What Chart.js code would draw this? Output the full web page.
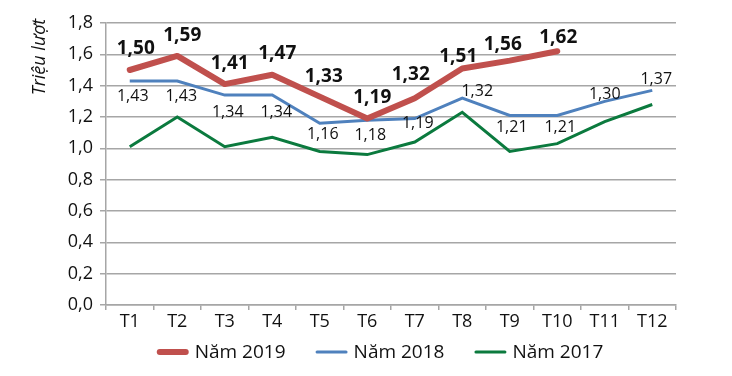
<!DOCTYPE html>
<html>
<head>
<meta charset="utf-8">
<script src="https://cdn.jsdelivr.net/npm/chart.js@4/dist/chart.umd.min.js"></script>
<style>
  html, body { margin: 0; padding: 0; background: #fff; }
  #wrap { width: 732px; height: 376px; }
</style>
</head>
<body>
<div id="wrap"><canvas id="myChart" width="732" height="376"></canvas></div>
<script>
var months = ["T1", "T2", "T3", "T4", "T5", "T6", "T7", "T8", "T9", "T10", "T11", "T12"];
var values2019 = [1.50, 1.59, 1.41, 1.47, 1.33, 1.19, 1.32, 1.51, 1.56, 1.62];
var values2018 = [1.43, 1.43, 1.34, 1.34, 1.16, 1.18, 1.19, 1.32, 1.21, 1.21, 1.30, 1.37];
var values2017 = [1.01, 1.20, 1.01, 1.07, 0.98, 0.96, 1.04, 1.23, 0.98, 1.03, 1.17, 1.28];
var seriesNames = ["Năm 2019", "Năm 2018", "Năm 2017"];

// label nudges [dx, dy] from each point
var offsets2019 = [[6, -21], [5, -20], [5, -21], [5, -21], [4, -20], [5, -21], [-4, -24], [-4, -12], [-7, -16], [1, -14]];
var offsets2018 = [[3, 15], [4, 15], [3, 17], [4, 17], [3, 11], [3, 15], [3, 5], [15, -7], [2, 12], [3, 12], [0, -7], [4, -11]];

var FONT = "'Open Sans', 'Noto Sans', sans-serif";
var red = "#C0504D", blue = "#4F81BD", green = "#0B7A3E", grid = "#A6A6A6";

function fmt(v) { return v.toFixed(2).replace(".", ","); }

var labelPlugin = {
    id: "pointLabels",
    afterDatasetsDraw: function (chart) {
        var ctx = chart.ctx;
        var sets = [
            { i: 0, offs: offsets2019, font: "bold 19px " + FONT },
            { i: 1, offs: offsets2018, font: "16px " + FONT }
        ];
        ctx.save();
        ctx.fillStyle = "#111";
        ctx.textAlign = "center";
        ctx.textBaseline = "middle";
        sets.forEach(function (s) {
            var meta = chart.getDatasetMeta(s.i);
            var data = chart.data.datasets[s.i].data;
            ctx.font = s.font;
            meta.data.forEach(function (pt, j) {
                var o = s.offs[j] || [0, -15];
                ctx.fillText(fmt(data[j]), pt.x + o[0], pt.y + o[1]);
            });
        });
        ctx.restore();
    }
};

var extrasPlugin = {
    id: "extras",
    afterDraw: function (chart) {
        var ctx = chart.ctx;
        ctx.save();
        // y axis title
        ctx.translate(40, 57);
        ctx.rotate(-Math.PI / 2);
        ctx.font = "italic 18px " + FONT;
        ctx.fillStyle = "#111";
        ctx.textAlign = "center";
        ctx.textBaseline = "middle";
        ctx.fillText("Triệu lượt", 0, 0);
        ctx.restore();

        // legend
        ctx.save();
        ctx.font = "19px " + FONT;
        ctx.textBaseline = "middle";
        ctx.fillStyle = "#111";
        var y = 352, sample = 32, gap = 6, between = 30;
        var items = chart.data.datasets.map(function (d) {
            return { text: d.label, color: d.borderColor, w: d.borderWidth, tw: ctx.measureText(d.label).width };
        });
        var total = 0;
        items.forEach(function (it, k) { total += sample + gap + it.tw + (k ? between : 0); });
        var x = 380 - total / 2;
        items.forEach(function (it) {
            ctx.beginPath();
            ctx.lineCap = "round";
            ctx.lineWidth = it.w;
            ctx.strokeStyle = it.color;
            ctx.moveTo(x + it.w / 2, y);
            ctx.lineTo(x + sample - it.w / 2, y);
            ctx.stroke();
            ctx.fillText(it.text, x + sample + gap, y + 1);
            x += sample + gap + it.tw + between;
        });
        ctx.restore();
    }
};

document.addEventListener("DOMContentLoaded", function () {
    var ctx = document.getElementById("myChart").getContext("2d");
    new Chart(ctx, {
        type: "line",
        data: {
            labels: months,
            datasets: [
                { label: seriesNames[0], data: values2019, borderColor: red, backgroundColor: red, borderWidth: 6, borderCapStyle: "round", borderJoinStyle: "round" },
                { label: seriesNames[1], data: values2018, borderColor: blue, backgroundColor: blue, borderWidth: 3 },
                { label: seriesNames[2], data: values2017, borderColor: green, backgroundColor: green, borderWidth: 3 }
            ]
        },
        options: {
            responsive: false,
            animation: false,
            tension: 0,
            elements: { point: { radius: 0, hoverRadius: 0 } },
            layout: { padding: { left: 0, right: 56, top: 23, bottom: 41 } },
            plugins: {
                legend: { display: false },
                tooltip: { enabled: false },
                title: { display: false }
            },
            scales: {
                x: {
                    offset: true,
                    grid: { offset: true, drawOnChartArea: false, drawTicks: true, tickLength: 5, color: grid, lineWidth: 1.5 },
                    border: { display: true, color: grid, width: 1.5 },
                    ticks: { color: "#111", font: { family: FONT, size: 18 }, padding: 1, maxRotation: 0, autoSkip: false },
                    afterFit: function (scale) { scale.height = 30; }
                },
                y: {
                    min: 0,
                    max: 1.8,
                    grid: { color: grid, lineWidth: 1.5, tickLength: 6 },
                    border: { display: true, color: grid, width: 1.5 },
                    ticks: {
                        stepSize: 0.2,
                        color: "#111",
                        padding: 7,
                        font: { family: FONT, size: 18 },
                        callback: function (v) { return v.toFixed(1).replace(".", ","); }
                    },
                    afterFit: function (scale) { scale.width = 106; }
                }
            }
        },
        plugins: [labelPlugin, extrasPlugin]
    });
});
</script>
</body>
</html>
